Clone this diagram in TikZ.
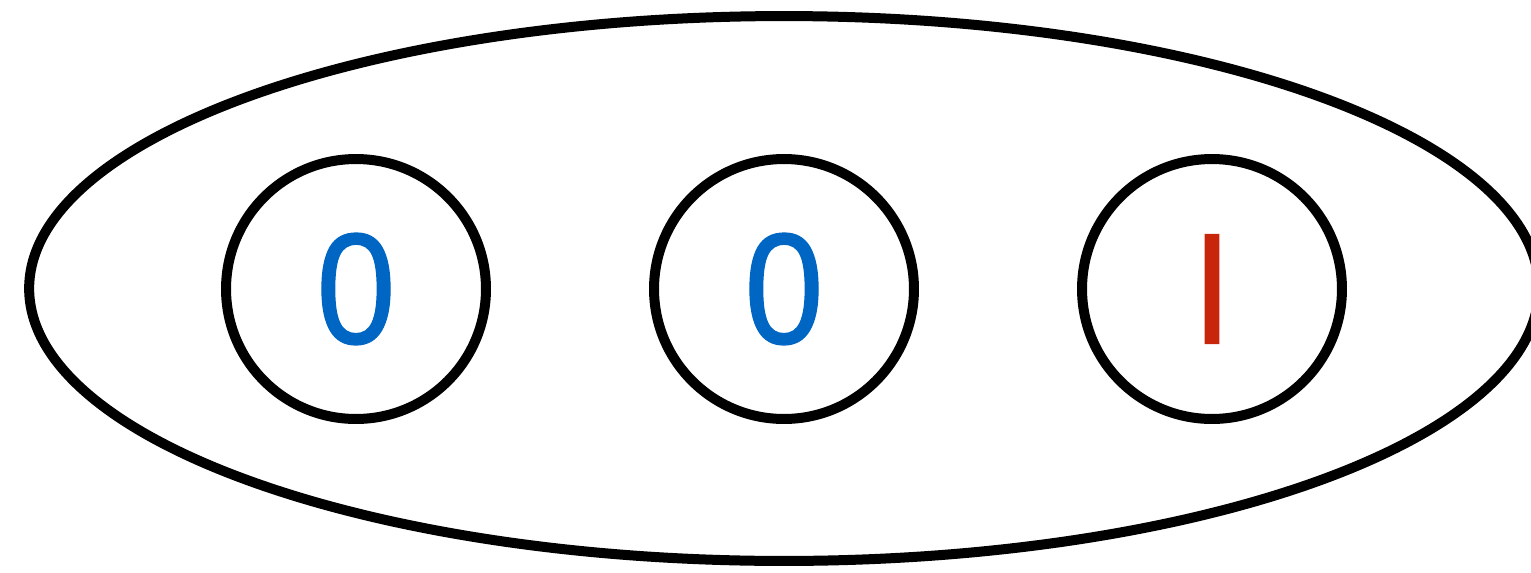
\documentclass[tikz,border=0pt]{standalone}
\usepackage{fontspec}
\setmainfont{Liberation Sans}
\newfontfamily\bitfont[FakeStretch=0.9,FakeBold=0.8]{Liberation Sans}
\usetikzlibrary{shapes.geometric}
\definecolor{bitblue}{HTML}{0066C4}
\definecolor{bitred}{HTML}{C8260A}
\tikzset{
  bitcell/.style={circle,draw,line width=2mm,minimum size=5.2cm,inner sep=0pt,
    font=\bitfont\fontsize{90}{90}\selectfont},
  register/.style={ellipse,draw,line width=2mm,minimum width=30.2cm,minimum height=10.9cm,inner sep=0pt}
}

\begin{document}
\begin{tikzpicture}[x=0.02cm,y=-0.02cm]
  \useasboundingbox (0,0) rectangle (1531,572);
  \node[register] (reg) at (784,288.5) {};
  \foreach \x/\b/\c/\n in {356/0/bitblue/a,784/0/bitblue/b,1212/I/bitred/c} {
    \node[bitcell,text=\c] (\n) at (\x,289) {\b};
  }
\end{tikzpicture}
\end{document}
